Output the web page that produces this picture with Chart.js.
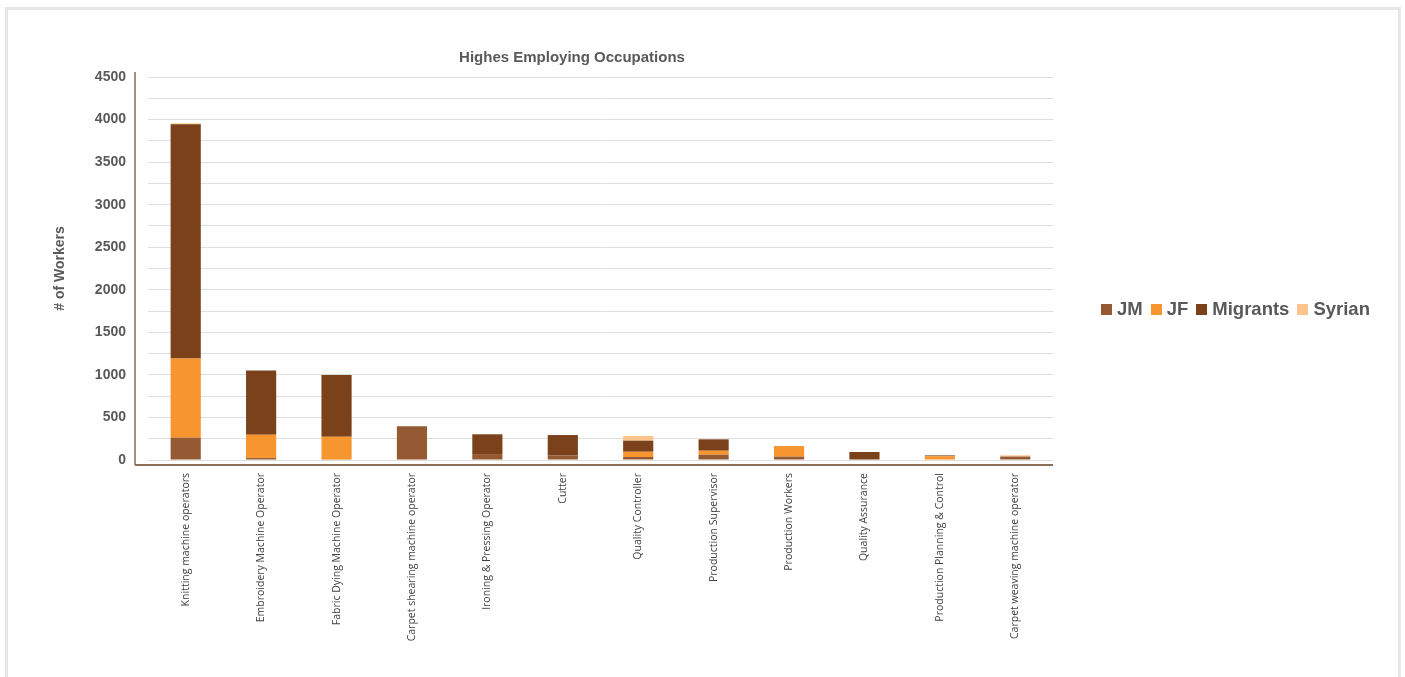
<!DOCTYPE html>
<html>
<head>
<meta charset="utf-8">
<script src="https://cdn.jsdelivr.net/npm/chart.js@4.4.1/dist/chart.umd.min.js"></script>
<style>
  html, body { margin: 0; padding: 0; background: #fff; overflow: hidden; }
  #frame { position: absolute; left: 5px; top: 7px; width: 1390px; height: 700px; border: 3px solid #e6e6e6; }
  #wrap { position: absolute; left: 0; top: 0; width: 1405px; height: 677px; }
  #legend { position: absolute; left: 1101px; top: 298px; display: flex; align-items: center;
            font: bold 18.5px "Liberation Sans", Arial, sans-serif; color: #595959; }
  #legend .item { display: flex; align-items: center; margin-right: 8px; }
  #legend .box { width: 11px; height: 11px; margin-right: 5px; }
</style>
</head>
<body>
<div id="frame"></div>
<div id="wrap"><canvas id="chart" width="1405" height="677"></canvas></div>
<div id="legend"></div>
<script>
// categories & series
var occupations = [
  'Knitting machine operators', 'Embroidery Machine Operator', 'Fabric Dying Machine Operator',
  'Carpet shearing machine operator', 'Ironing & Pressing Operator', 'Cutter',
  'Quality Controller', 'Production Supervisor', 'Production Workers',
  'Quality Assurance', 'Production Planning & Control', 'Carpet weaving machine operator'
];
var jmValues       = [262, 23, 5, 396, 70, 55, 35, 62, 39, 0, 6, 40];
var jfValues       = [932, 274, 268, 0, 0, 0, 62, 47, 125, 0, 38, 0];
var migrantValues  = [2750, 756, 725, 0, 232, 238, 130, 134, 0, 94, 10, 0];
var syrianValues   = [12, 0, 0, 0, 0, 0, 55, 0, 0, 0, 0, 15];

var seriesNames  = ['JM', 'JF', 'Migrants', 'Syrian'];
var seriesColors = ['#955a34', '#f7952f', '#7b411b', '#fdc48b'];
var yMax = 4500;
var yStep = 250;
var yLabelStep = 500;

var chartTitle = 'Highes Employing Occupations';
var yTitle = '# of Workers';

var allValues = [jmValues, jfValues, migrantValues, syrianValues];

// dessine les lignes d'axe (décalées comme dans l'original) + le titre
var axisPlugin = {
  id: 'axisLines',
  afterDraw: function(chart) {
    var ctx = chart.ctx;
    var a = chart.chartArea;
    var x0 = a.left - 13;
    ctx.save();
    ctx.strokeStyle = '#8c6d57';
    ctx.lineWidth = 1.5;
    ctx.beginPath();
    ctx.moveTo(x0, a.top - 5);
    ctx.lineTo(x0, a.bottom + 5);
    ctx.stroke();
    ctx.lineWidth = 2;
    ctx.beginPath();
    ctx.moveTo(x0, a.bottom + 5);
    ctx.lineTo(a.right, a.bottom + 5);
    ctx.stroke();

    ctx.fillStyle = '#595959';
    ctx.font = 'bold 15px "Liberation Sans", Arial, sans-serif';
    ctx.textAlign = 'center';
    ctx.textBaseline = 'middle';
    ctx.fillText(chartTitle, 572, 58);
    ctx.restore();
  }
};

var datasets = seriesNames.map(function(name, i) {
  return {
    label: name,
    data: allValues[i],
    backgroundColor: seriesColors[i],
    borderWidth: 0,
    barPercentage: 0.4,
    categoryPercentage: 1.0
  };
});

// légende HTML sur une seule ligne
var legendDiv = document.getElementById('legend');
seriesNames.forEach(function(name, i) {
  var item = document.createElement('div');
  item.className = 'item';
  var box = document.createElement('span');
  box.className = 'box';
  box.style.background = seriesColors[i];
  var txt = document.createElement('span');
  txt.textContent = name;
  item.appendChild(box);
  item.appendChild(txt);
  legendDiv.appendChild(item);
});

var ctx = document.getElementById('chart').getContext('2d');
window.myChart = new Chart(ctx, {
  type: 'bar',
  data: { labels: occupations, datasets: datasets },
  plugins: [axisPlugin],
  options: {
    responsive: false,
    animation: false,
    layout: { padding: { left: 46, right: 352, top: 77, bottom: 0 } },
    plugins: {
      legend: { display: false },
      title: { display: false },
      tooltip: { enabled: false }
    },
    scales: {
      x: {
        stacked: true,
        grid: { display: false },
        border: { display: false },
        ticks: {
          autoSkip: false,
          minRotation: 90,
          maxRotation: 90,
          padding: 5,
          color: '#404040',
          font: { family: '"Open Sans", sans-serif', size: 10.5 }
        },
        afterFit: function(scale) { scale.height = 217; }
      },
      y: {
        stacked: true,
        min: 0,
        max: yMax,
        grid: { color: '#dedede', drawTicks: false },
        border: { display: false },
        ticks: {
          stepSize: yStep,
          padding: 22,
          color: '#595959',
          font: { family: '"Liberation Sans", Arial, sans-serif', size: 14, weight: 'bold' },
          callback: function(v) { return v % yLabelStep === 0 ? v : ''; }
        },
        title: {
          display: true,
          text: yTitle,
          color: '#595959',
          font: { family: '"Liberation Sans", Arial, sans-serif', size: 14, weight: 'bold' },
          padding: { top: 6, bottom: 0 }
        },
        afterFit: function(scale) { scale.width = 102; }
      }
    }
  }
});
</script>
</body>
</html>
